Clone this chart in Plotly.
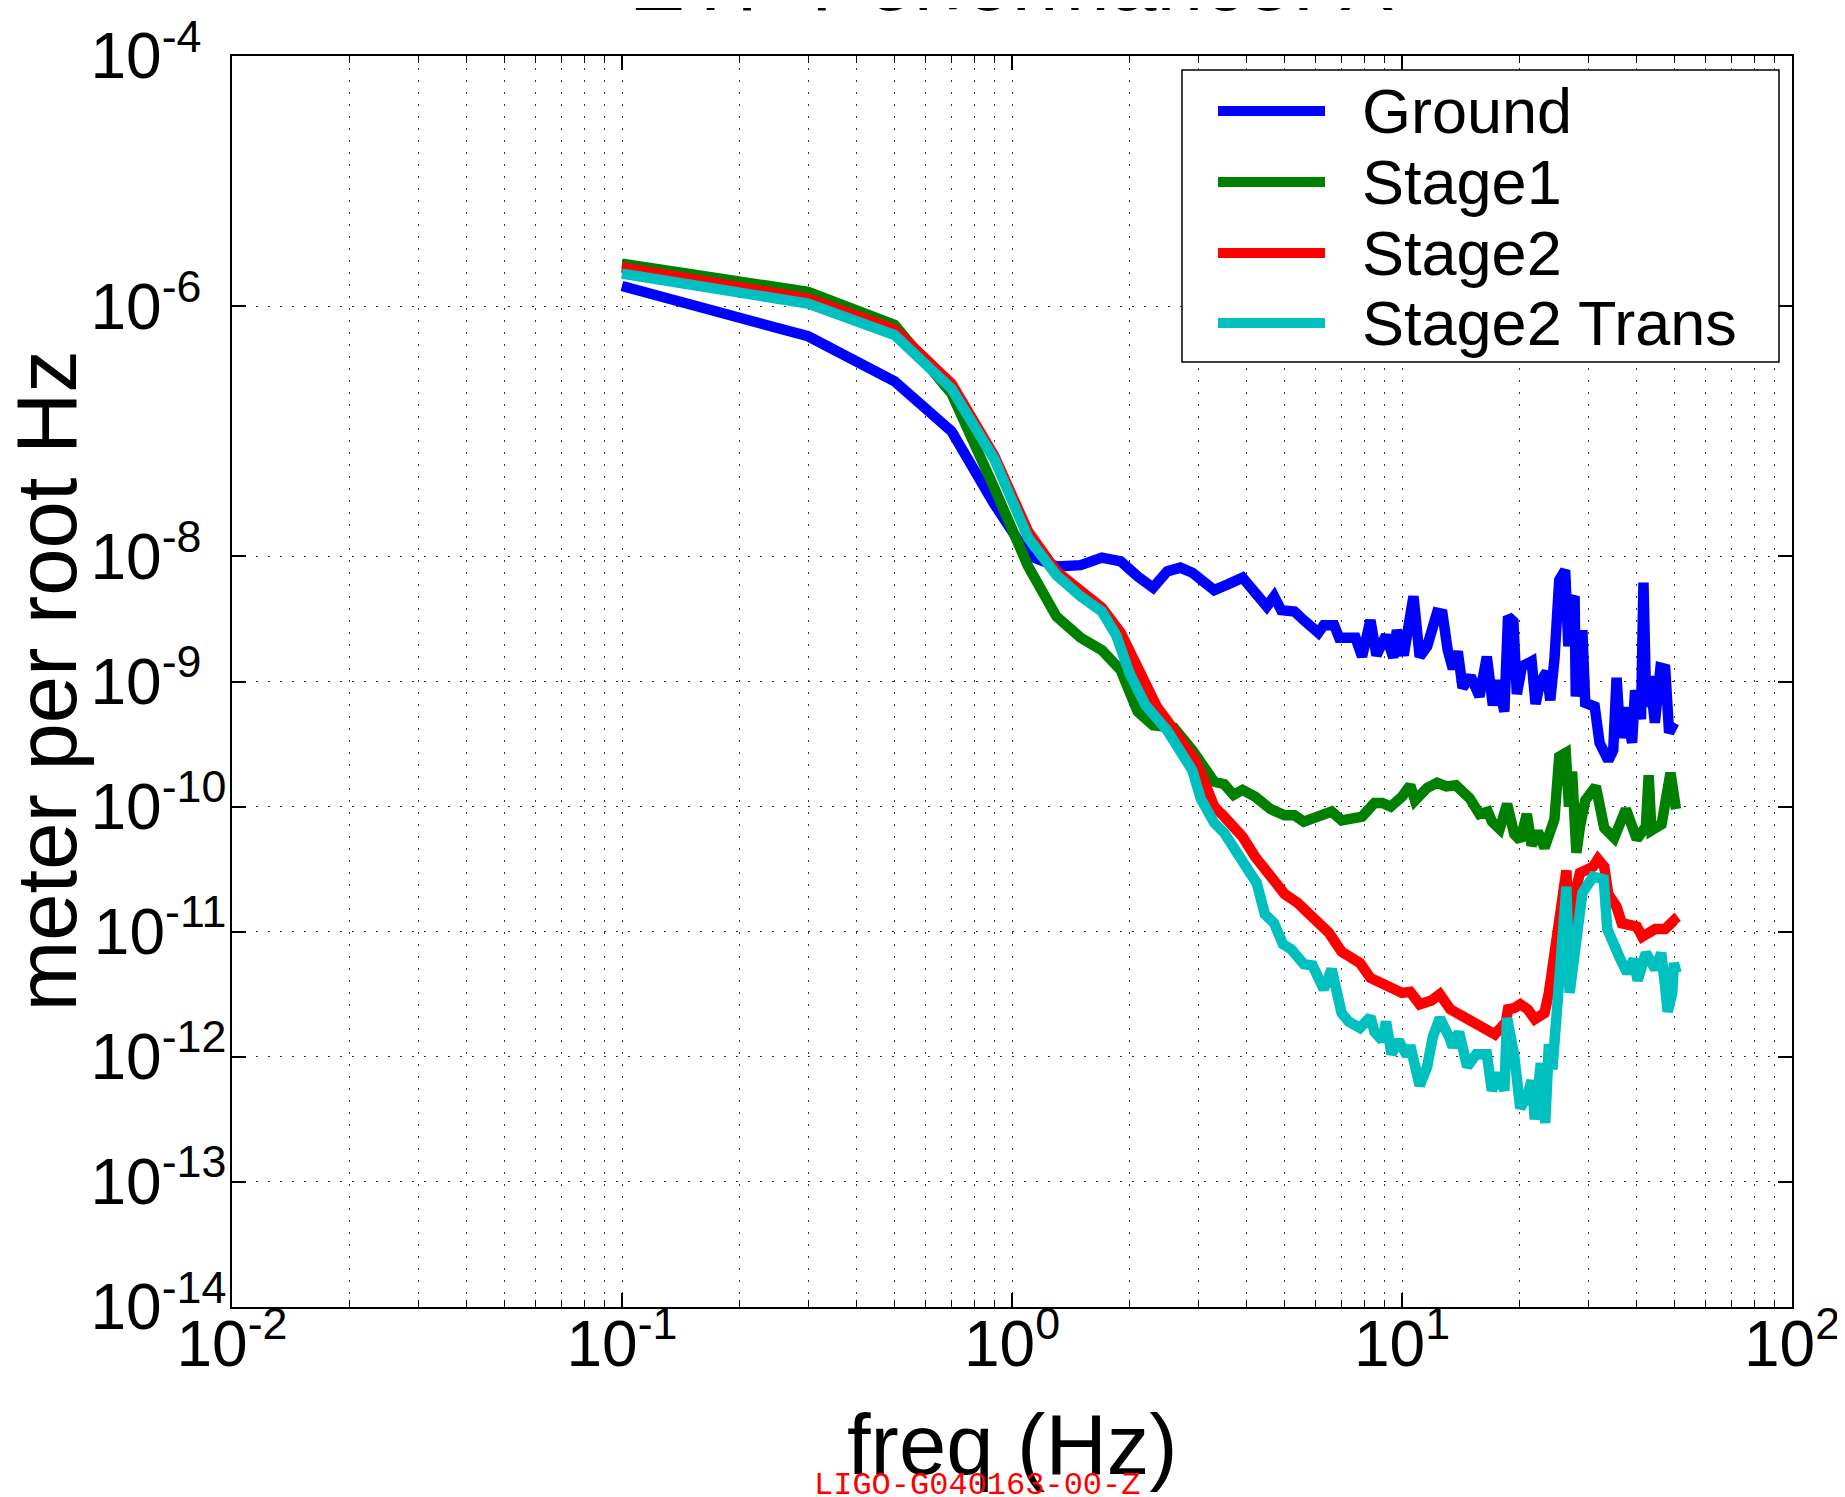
import plotly.graph_objects as go

# ---- data (frequency in Hz, amplitude in m/rtHz) ----
ground_freq = [0.1, 0.3, 0.5, 0.7, 0.9, 1.1, 1.3, 1.5, 1.7, 1.9, 2.1, 2.3, 2.5, 2.7, 2.9,
               3.3, 3.6, 3.9, 4.5, 4.7, 4.9, 5.3, 5.6, 6.1, 6.3, 6.7, 6.9, 7.6, 7.9, 8.3,
               8.6, 9.1, 9.5, 9.7, 10.1, 10.7, 11.1, 11.6, 12.3, 12.7, 13.1, 13.5, 13.9,
               14.3, 15.0, 15.8, 16.5, 17.1, 17.6, 18.3, 18.7, 19.3, 19.7, 20.3, 21.5,
               22.0, 22.6, 23.5, 24.0, 24.6, 25.3, 26.2, 26.7, 27.1, 27.7, 27.9, 29.0,
               29.5, 31.2, 32.1, 33.8, 34.8, 35.5, 36.3, 37.4, 38.9, 39.6, 41.0, 41.6,
               42.3, 43.2, 44.5, 46.0, 47.3, 48.4, 49.9]
ground_asd = [1.45e-6, 5.75e-7, 2.51e-7, 1.00e-7, 2.63e-8, 1.02e-8, 8.32e-9, 8.51e-9,
              9.77e-9, 9.12e-9, 6.92e-9, 5.62e-9, 7.59e-9, 8.13e-9, 7.41e-9, 5.37e-9,
              6.03e-9, 6.76e-9, 3.98e-9, 4.79e-9, 3.72e-9, 3.63e-9, 3.09e-9, 2.45e-9,
              2.82e-9, 2.82e-9, 2.24e-9, 2.24e-9, 1.58e-9, 3.09e-9, 1.62e-9, 2.34e-9,
              1.55e-9, 2.57e-9, 1.62e-9, 4.79e-9, 1.58e-9, 1.91e-9, 3.55e-9, 3.47e-9,
              1.78e-9, 1.26e-9, 1.74e-9, 8.91e-10, 1.10e-9, 7.59e-10, 1.58e-9, 6.46e-10,
              1.02e-9, 5.75e-10, 3.31e-9, 3.02e-9, 7.94e-10, 1.32e-9, 1.45e-9, 6.61e-10,
              9.77e-10, 1.20e-9, 7.08e-10, 1.51e-9, 6.46e-9, 7.76e-9, 1.91e-9, 4.27e-9,
              4.79e-9, 7.59e-10, 2.57e-9, 6.76e-10, 6.31e-10, 3.24e-10, 2.34e-10, 2.82e-10,
              1.07e-9, 3.55e-10, 6.17e-10, 3.24e-10, 8.51e-10, 5.01e-10, 6.17e-9, 6.31e-10,
              1.10e-9, 4.68e-10, 1.29e-9, 1.26e-9, 3.89e-10, 4.68e-10]

stage1_freq = [0.1, 0.3, 0.5, 0.7, 0.9, 1.1, 1.3, 1.5, 1.7, 1.9, 2.1, 2.3, 2.6, 2.9, 3.3,
               3.5, 3.7, 3.9, 4.2, 4.6, 5.0, 5.3, 5.6, 6.0, 6.6, 7.0, 7.9, 8.5, 8.9, 9.35,
               10.0, 10.5, 10.8, 11.6, 12.3, 13.0, 13.75, 14.9, 15.8, 16.6, 17.0, 17.8,
               18.6, 19.4, 20.1, 20.9, 21.5, 22.3, 23.2, 24.6, 25.3, 26.3, 26.8, 27.3,
               28.0, 28.6, 29.5, 31.4, 33.0, 35.0, 37.5, 40.0, 42.2, 42.9, 43.6, 46.3,
               47.5, 48.8, 50.4]
stage1_asd = [2.19e-6, 1.30e-6, 7.08e-7, 2.00e-7, 3.55e-8, 8.32e-9, 3.31e-9, 2.24e-9,
              1.78e-9, 1.23e-9, 5.75e-10, 4.47e-10, 4.27e-10, 2.82e-10, 1.58e-10,
              1.51e-10, 1.24e-10, 1.36e-10, 1.20e-10, 9.55e-11, 8.51e-11, 8.51e-11,
              7.59e-11, 8.32e-11, 9.12e-11, 7.76e-11, 8.32e-11, 1.07e-10, 1.07e-10,
              1.00e-10, 1.20e-10, 1.48e-10, 1.12e-10, 1.41e-10, 1.55e-10, 1.45e-10,
              1.48e-10, 1.17e-10, 8.71e-11, 9.12e-11, 7.59e-11, 6.61e-11, 1.05e-10,
              6.03e-11, 5.37e-11, 8.71e-11, 4.90e-11, 6.31e-11, 4.68e-11, 7.94e-11,
              2.51e-10, 2.69e-10, 1.00e-10, 1.91e-10, 4.27e-11, 6.92e-11, 1.12e-10,
              1.45e-10, 6.76e-11, 5.62e-11, 9.55e-11, 5.50e-11, 6.92e-11, 1.78e-10,
              6.46e-11, 7.24e-11, 1.05e-10, 1.86e-10, 9.55e-11]

stage2_freq = [0.1, 0.3, 0.5, 0.7, 0.9, 1.1, 1.3, 1.5, 1.7, 1.9, 2.2, 2.35, 2.55, 2.75,
               2.95, 3.1, 3.3, 3.5, 3.9, 4.2, 4.55, 4.8, 5.0, 5.4, 5.8, 6.2, 6.5, 7.0,
               7.4, 7.8, 8.3, 8.9, 9.4, 10.0, 10.5, 11.1, 11.9, 12.5, 13.3, 14.2, 14.9,
               15.7, 16.6, 17.3, 17.9, 18.3, 18.7, 19.4, 20.1, 21.0, 21.9, 23.2, 23.8,
               24.1, 25.0, 25.6, 26.4, 26.8, 27.5, 28.6, 30.9, 31.8, 33.0, 33.8, 35.5,
               36.6, 40.0, 41.3, 44.6, 47.3, 49.8, 50.6]
stage2_asd = [2.04e-6, 1.15e-6, 6.53e-7, 2.40e-7, 6.38e-8, 1.58e-8, 7.59e-9, 5.25e-9,
              3.89e-9, 2.45e-9, 9.77e-10, 6.31e-10, 4.47e-10, 3.24e-10, 2.34e-10,
              1.64e-10, 1.00e-10, 8.32e-11, 5.75e-11, 3.98e-11, 2.95e-11, 2.51e-11,
              2.00e-11, 1.70e-11, 1.38e-11, 1.15e-11, 9.77e-12, 6.92e-12, 6.03e-12,
              5.62e-12, 4.27e-12, 3.89e-12, 3.47e-12, 3.24e-12, 3.31e-12, 2.63e-12,
              2.82e-12, 3.16e-12, 2.40e-12, 2.14e-12, 1.91e-12, 1.82e-12, 1.66e-12,
              1.51e-12, 1.70e-12, 1.58e-12, 2.40e-12, 2.45e-12, 2.63e-12, 2.40e-12,
              2.00e-12, 2.24e-12, 3.24e-12, 4.37e-12, 7.59e-12, 1.58e-11, 3.09e-11,
              8.51e-12, 1.78e-11, 2.95e-11, 3.31e-11, 3.80e-11, 3.31e-11, 2.00e-11,
              1.58e-11, 1.17e-11, 1.10e-11, 9.12e-12, 1.05e-11, 1.05e-11, 1.23e-11,
              1.15e-11]

trans_freq = [0.1, 0.3, 0.5, 0.7, 0.9, 1.1, 1.3, 1.5, 1.7, 1.85, 2.0, 2.2, 2.5, 2.7, 2.9,
              3.05, 3.3, 3.5, 3.7, 4.0, 4.24, 4.45, 4.7, 4.95, 5.2, 5.6, 5.9, 6.3, 6.6,
              7.0, 7.3, 7.8, 8.3, 8.5, 8.9, 9.1, 9.4, 9.8, 10.3, 10.5, 11.1, 11.6, 12.0,
              12.5, 13.2, 13.5, 14.0, 14.7, 15.5, 16.5, 17.0, 17.7, 18.3, 18.6, 19.4,
              20.1, 20.9, 21.5, 21.9, 22.7, 23.3, 23.8, 24.3, 25.0, 25.6, 26.4, 26.9,
              27.8, 29.0, 30.9, 32.9, 33.6, 34.9, 36.3, 37.8, 39.3, 40.2, 41.3, 42.2,
              44.6, 46.2, 47.3, 48.0, 49.3, 49.8, 50.6]
trans_asd = [1.82e-6, 1.05e-6, 5.89e-7, 2.19e-7, 6.03e-8, 1.41e-8, 7.08e-9, 4.79e-9,
             3.63e-9, 2.34e-9, 1.17e-9, 6.46e-10, 4.07e-10, 2.69e-10, 1.95e-10,
             1.15e-10, 7.41e-11, 6.17e-11, 4.57e-11, 3.24e-11, 2.45e-11, 1.38e-11,
             1.17e-11, 7.94e-12, 7.24e-12, 5.50e-12, 5.37e-12, 3.47e-12, 5.01e-12,
             2.24e-12, 1.91e-12, 1.70e-12, 2.09e-12, 1.58e-12, 1.35e-12, 1.91e-12,
             1.05e-12, 1.35e-12, 1.02e-12, 1.23e-12, 5.89e-13, 8.32e-13, 1.45e-12,
             2.04e-12, 1.45e-12, 1.20e-12, 1.58e-12, 8.32e-13, 1.05e-12, 1.05e-12,
             5.37e-13, 7.41e-13, 5.37e-13, 2.04e-12, 1.02e-12, 3.89e-13, 4.79e-13,
             6.46e-13, 3.16e-13, 8.91e-13, 2.95e-13, 1.26e-12, 7.94e-13, 2.51e-12,
             5.01e-12, 2.29e-11, 3.24e-12, 8.71e-12, 2.04e-11, 2.75e-11, 2.63e-11,
             1.05e-11, 7.59e-12, 6.03e-12, 4.68e-12, 6.03e-12, 4.07e-12, 6.03e-12,
             6.76e-12, 5.01e-12, 6.76e-12, 3.63e-12, 2.29e-12, 3.24e-12, 5.62e-12,
             4.68e-12]

series_names = ["Ground", "Stage1", "Stage2", "Stage2 Trans"]
series_colors = ["#0000FF", "#008000", "#FF0000", "#00BFBF"]

x_tick_exp = ["-2", "-1", "0", "1", "2"]
y_tick_exp = ["-4", "-6", "-8", "-9", "-10", "-11", "-12", "-13", "-14"]

FONT = "Liberation Sans, Arial, Helvetica, sans-serif"

# figure geometry (pixels); the page body adds an 8px offset, so margins compensate
W, H = 1845, 1497
OFF = 8
L, T = 232 - OFF, 56 - OFF
R, B = 53 + OFF, 190 + OFF
PW, PH = W - L - R, H - T - B


def px(x):
    # page pixel -> paper fraction
    return (x - OFF - L) / PW


def py(y):
    return (H - B - (y - OFF)) / PH


def pow_label(e, pad=""):
    return "10<sup>%s%s</sup>" % (e, pad)


fig = go.Figure()
for name, f, a, c in zip(series_names,
                         [ground_freq, stage1_freq, stage2_freq, trans_freq],
                         [ground_asd, stage1_asd, stage2_asd, trans_asd],
                         series_colors):
    fig.add_trace(go.Scatter(x=f, y=a, mode="lines", name=name,
                             line=dict(color=c, width=10.5)))

grid = dict(showgrid=True, gridcolor="#333333", gridwidth=1, griddash="2px,10px")
minor_x = [m * 10.0 ** e for e in range(-2, 2) for m in range(2, 10)]

fig.update_xaxes(
    type="log", range=[-2, 2], automargin=False,
    tickvals=[10.0 ** int(e) for e in x_tick_exp],
    ticktext=[pow_label(e) for e in x_tick_exp],
    tickfont=dict(family=FONT, size=64, color="black"),
    ticks="inside", ticklen=14, tickwidth=1.5, tickcolor="black",
    showline=True, linecolor="black", linewidth=1.5, mirror="allticks",
    ticklabelstandoff=-20,
    minor=dict(tickvals=minor_x, ticks="inside", ticklen=7, tickwidth=1,
               tickcolor="black", **grid),
    **grid,
)
# single-digit exponents padded with a figure space so the "10" bases line up
fig.update_yaxes(
    type="log", range=[-14, -4], automargin=False,
    tickvals=[10.0 ** int(e) for e in y_tick_exp],
    ticktext=[pow_label(e, "\u2007" if len(e) == 2 else "") for e in y_tick_exp],
    tickfont=dict(family=FONT, size=64, color="black"),
    ticks="inside", ticklen=14, tickwidth=1.5, tickcolor="black",
    showline=True, linecolor="black", linewidth=1.5, mirror="allticks",
    ticklabelstandoff=-9,
    **grid,
)

# legend box drawn by hand to match the original's spacing
legend_rows_y = [111, 182, 253, 323]
shapes = [dict(type="rect", xref="paper", yref="paper",
               x0=px(1182), x1=px(1779), y0=py(362), y1=py(70),
               line=dict(color="black", width=1.5), fillcolor="white", layer="above")]
annotations = []
for name, c, yy in zip(series_names, series_colors, legend_rows_y):
    shapes.append(dict(type="line", xref="paper", yref="paper",
                       x0=px(1218), x1=px(1325), y0=py(yy), y1=py(yy),
                       line=dict(color=c, width=10), layer="above"))
    annotations.append(dict(text=name, xref="paper", yref="paper",
                            x=px(1360), y=py(yy), xanchor="left", yanchor="middle",
                            showarrow=False,
                            font=dict(family=FONT, size=63, color="black")))

annotations += [
    dict(text="ETF Performance: X", xref="paper", yref="paper", x=0.5, y=1,
         xanchor="center", yanchor="bottom", yshift=26, showarrow=False,
         font=dict(family=FONT, size=84, color="black")),
    dict(text="freq (Hz)", xref="paper", yref="paper", x=0.5, y=0,
         xanchor="center", yanchor="top", yshift=-88, showarrow=False,
         font=dict(family=FONT, size=85, color="black")),
    dict(text="meter per root Hz", xref="paper", yref="paper", x=0, y=0.5,
         xanchor="center", yanchor="middle", xshift=-186, textangle=-90,
         showarrow=False, font=dict(family=FONT, size=85, color="black")),
    dict(text="LIGO-G040163-00-Z", xref="paper", yref="paper", x=px(977), y=0,
         xanchor="center", yanchor="middle", yshift=-178, showarrow=False,
         font=dict(family="Liberation Mono, Courier New, monospace", size=32,
                   color="#FF0000")),
]

fig.update_layout(
    width=W, height=H,
    margin=dict(l=L, r=R, t=T, b=B),
    paper_bgcolor="white", plot_bgcolor="white",
    font=dict(family=FONT, color="black"),
    showlegend=False,
    shapes=shapes,
    annotations=annotations,
)

fig.write_html("out.html")
